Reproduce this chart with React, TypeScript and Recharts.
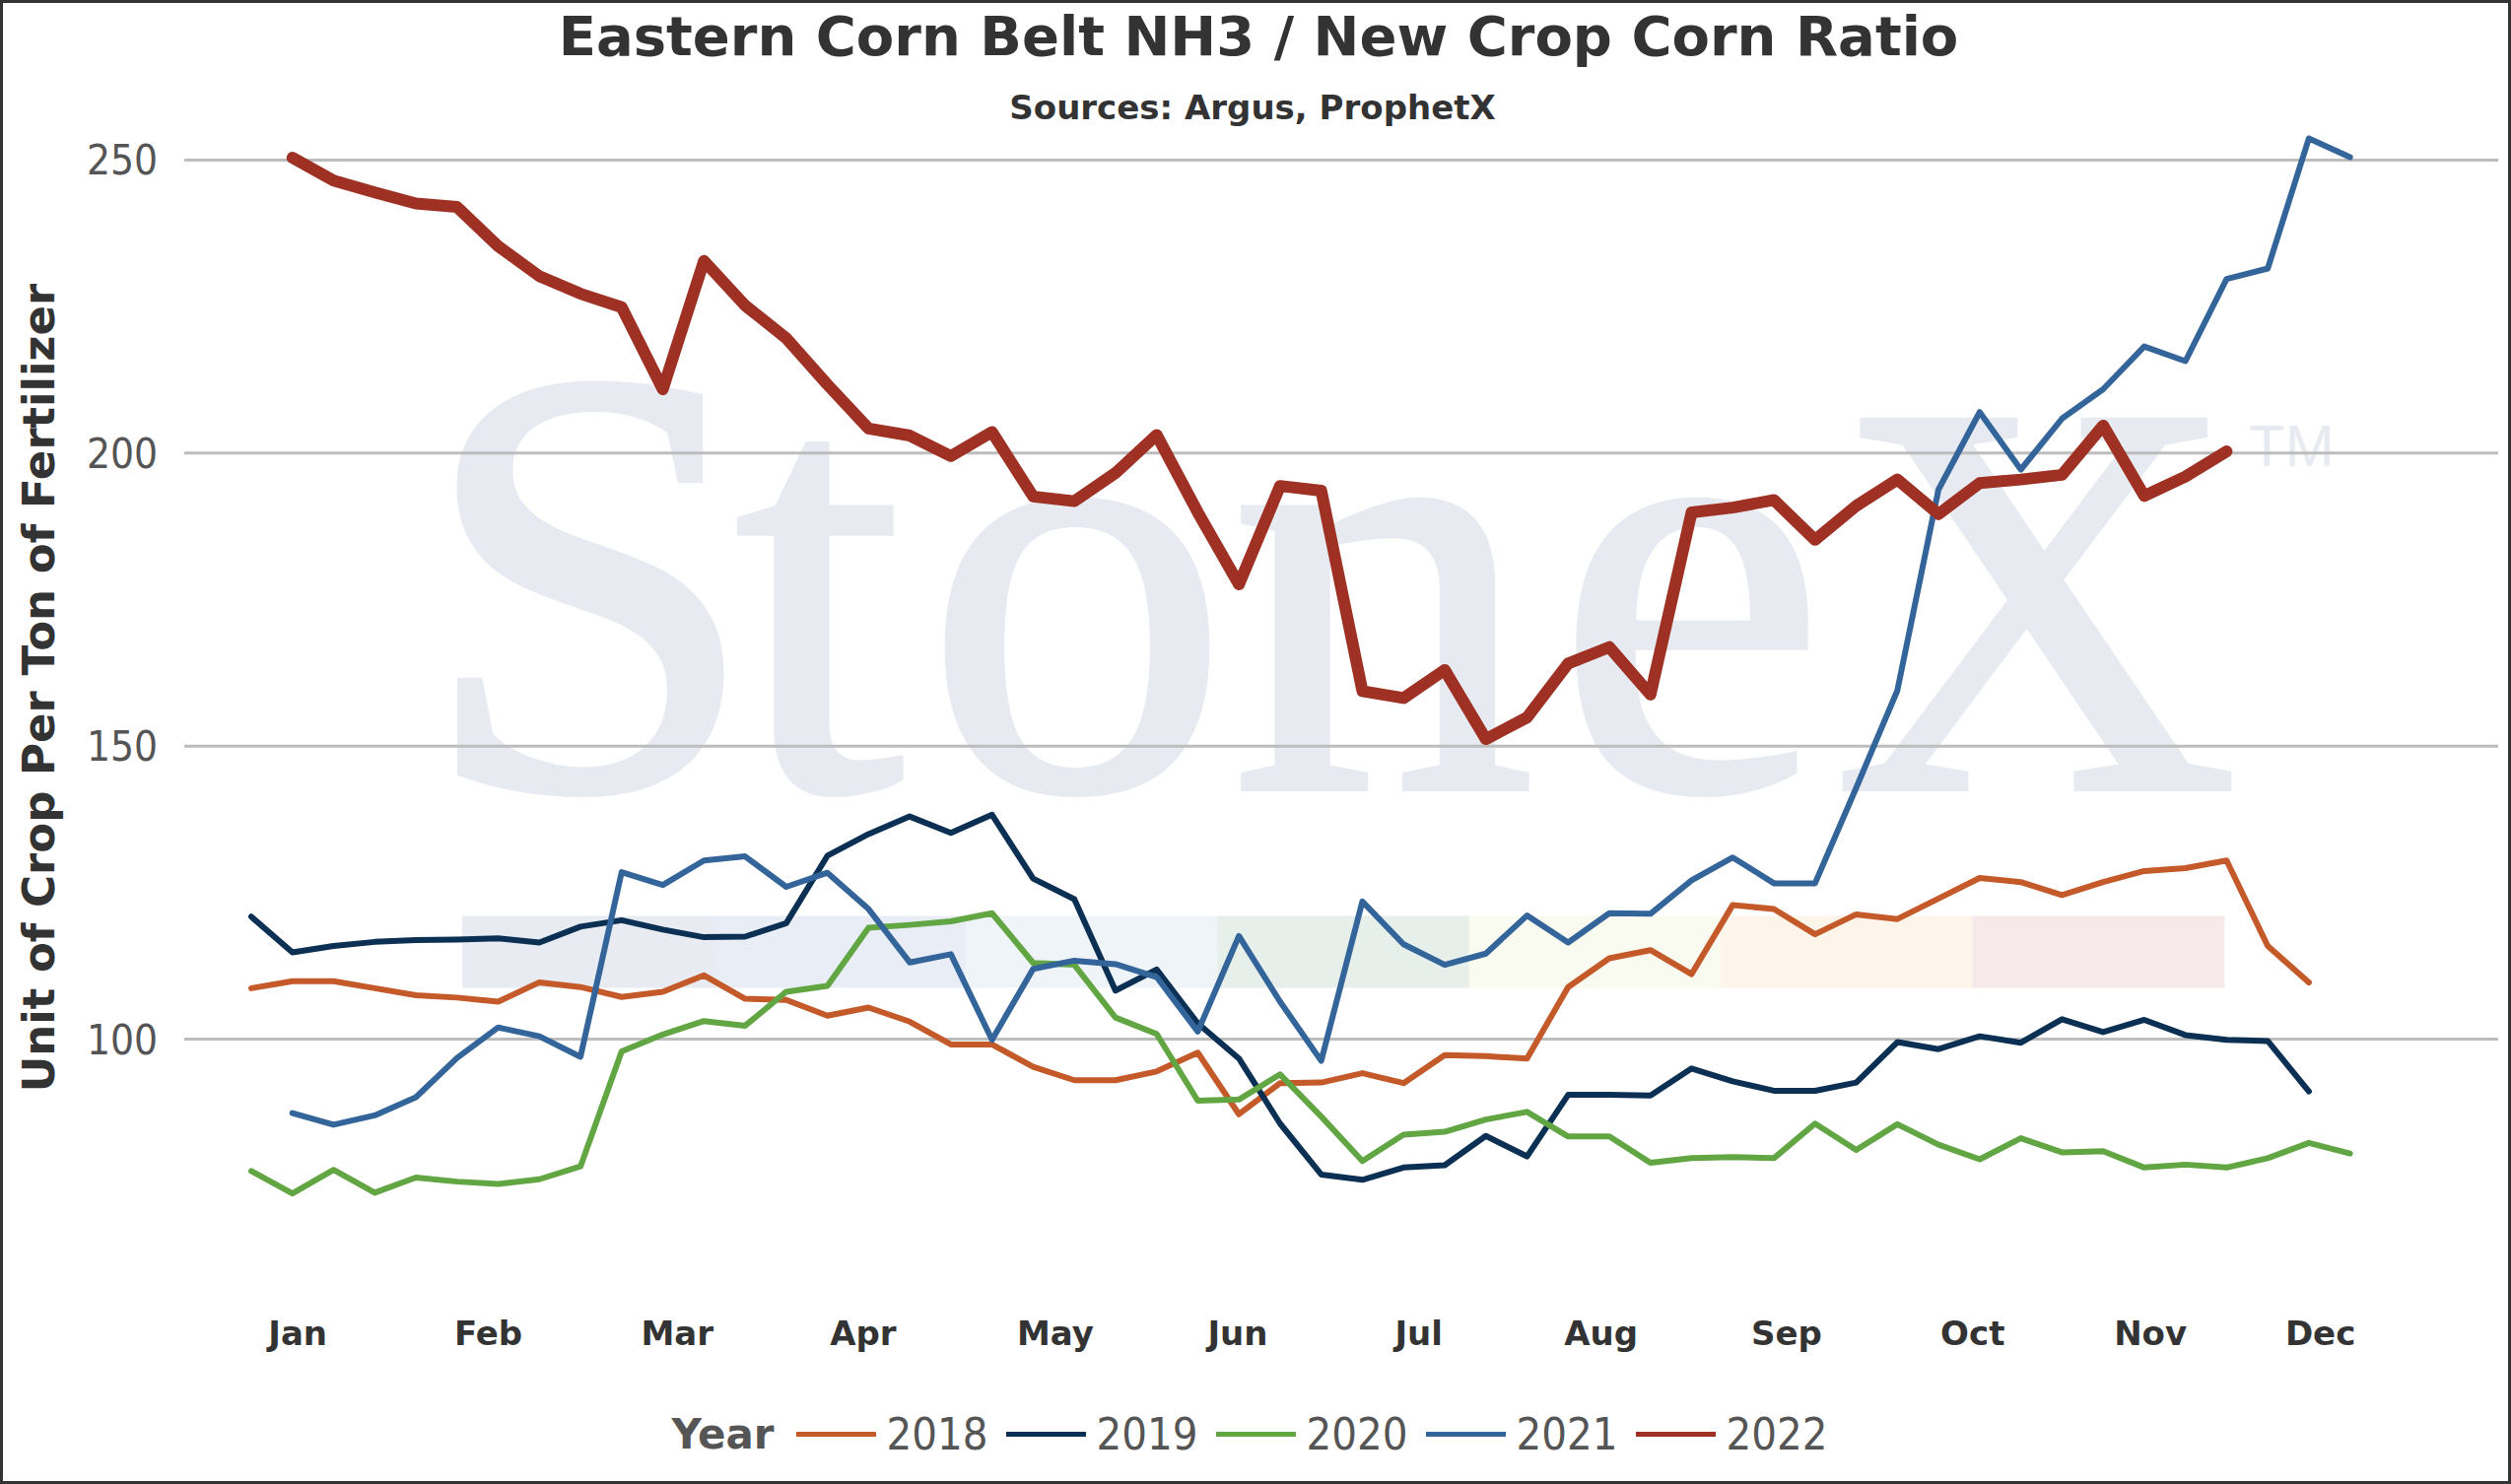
import { CartesianGrid, Legend, Line, LineChart, XAxis, YAxis } from 'recharts'

const WIDTH = 2548
const HEIGHT = 1506

// weekly observations, week index 0..51
const weeks = [
  0, 1, 2, 3, 4, 5, 6, 7, 8, 9, 10, 11, 12, 13, 14, 15, 16, 17, 18, 19, 20, 21, 22, 23, 24, 25,
  26, 27, 28, 29, 30, 31, 32, 33, 34, 35, 36, 37, 38, 39, 40, 41, 42, 43, 44, 45, 46, 47, 48, 49, 50, 51,
]

const monthTicks = [1.13, 5.76, 10.35, 14.87, 19.54, 23.97, 28.37, 32.8, 37.31, 41.83, 46.15, 50.28]
const monthLabels = ['Jan', 'Feb', 'Mar', 'Apr', 'May', 'Jun', 'Jul', 'Aug', 'Sep', 'Oct', 'Nov', 'Dec']
const valueTicks = [100, 150, 200, 250]

const years = ['2018', '2019', '2020', '2021', '2022']
const yearColors = ['#c4592a', '#0b3053', '#62a644', '#33649a', '#9e3123']
const yearWidths = [6, 6, 6, 6, 12]

const ratio2018 = [
  108.7, 109.9, 109.9, 108.7, 107.5, 107.1, 106.4, 109.7, 108.9, 107.2, 108.1, 110.9, 106.9, 106.7,
  104.0, 105.4, 103.0, 99.1, 99.1, 95.3, 93.0, 93.0, 94.5, 97.7, 87.2, 92.5, 92.6, 94.2, 92.5, 97.3,
  97.1, 96.7, 108.9, 113.8, 115.2, 111.1, 122.9, 122.2, 117.9, 121.3, 120.5, 124.0, 127.5, 126.8,
  124.6, 126.8, 128.7, 129.2, 130.5, 115.9, 109.7, null,
]
const ratio2019 = [
  120.9, 114.8, 115.9, 116.6, 116.9, 117.0, 117.2, 116.5, 119.2, 120.3, 118.7, 117.4, 117.5, 119.8,
  131.3, 135.0, 138.0, 135.2, 138.3, 127.4, 123.9, 108.3, 111.9, 102.7, 96.7, 85.6, 76.9, 76.0, 78.1,
  78.5, 83.5, 80.0, 90.5, 90.5, 90.4, 95.0, 92.8, 91.2, 91.2, 92.6, 99.5, 98.3, 100.5, 99.4, 103.4,
  101.2, 103.3, 100.7, 99.9, 99.7, 91.1, null,
]
const ratio2020 = [
  77.5, 73.7, 77.7, 73.8, 76.4, 75.7, 75.3, 76.1, 78.3, 97.9, 100.8, 103.1, 102.3, 108.1, 109.1,
  119.0, 119.5, 120.1, 121.5, 113.0, 112.7, 103.7, 100.9, 89.5, 89.7, 94.0, 86.8, 79.2, 83.7, 84.2,
  86.3, 87.6, 83.4, 83.4, 78.9, 79.7, 79.9, 79.7, 85.6, 81.1, 85.5, 82.0, 79.5, 83.1, 80.7, 80.9,
  78.1, 78.6, 78.1, 79.7, 82.3, 80.5,
]
const ratio2021 = [
  null, 87.4, 85.4, 87.0, 90.1, 96.8, 102.0, 100.5, 97.0, 128.5, 126.3, 130.5, 131.2, 126.0, 128.4,
  122.2, 113.1, 114.5, 99.9, 112.0, 113.4, 112.8, 110.6, 101.3, 117.6, 106.4, 96.3, 123.5, 116.2,
  112.7, 114.6, 121.1, 116.5, 121.5, 121.4, 127.1, 131.0, 126.6, 126.6, 142.9, 159.5, 193.8, 207.0,
  197.2, 205.9, 210.9, 218.2, 215.7, 229.7, 231.5, 253.7, 250.5,
]
const ratio2022 = [
  null, 250.4, 246.5, 244.5, 242.6, 242.0, 235.3, 230.2, 227.2, 224.9, 210.9, 232.8, 225.2, 219.6,
  211.7, 204.2, 203.0, 199.5, 203.6, 192.6, 191.8, 196.6, 203.1, 189.9, 177.6, 194.4, 193.6, 159.4,
  158.2, 163.0, 151.2, 154.9, 164.1, 166.9, 158.8, 189.9, 190.7, 192.0, 185.2, 191.0, 195.5, 189.6,
  194.9, 195.5, 196.3, 204.7, 192.7, 196.0, 200.3, null, null, null,
]

const seriesValues = [ratio2018, ratio2019, ratio2020, ratio2021, ratio2022]

const chartData = weeks.map((week, k) => {
  const row: Record<string, number | null> = { week }
  years.forEach((year, s) => {
    row[year] = seriesValues[s][k]
  })
  return row
})

// pastel strip that sits under the StoneX watermark
const stripColors = ['#e8ebf1', '#e9eef6', '#eff4f9', '#e6efea', '#fafbf0', '#fdf5e9', '#f6e9e9']

const BOLD = "'DejaVu Sans', Verdana, sans-serif"
const REGULAR = "'DejaVu Sans Condensed', 'DejaVu Sans', sans-serif"
const WATERMARK = '#e7eaf0'

function renderLegend(props: { payload?: Array<{ value?: string; color?: string }> }) {
  const items = props.payload ?? []

  return (
    <div
      style={{
        display: 'flex',
        alignItems: 'center',
        justifyContent: 'center',
        height: 70,
        color: '#555',
      }}
    >
      <span style={{ fontFamily: BOLD, fontWeight: 700, fontSize: 42, marginRight: 22 }}>
        Year
      </span>
      {items.map((item, index) => (
        <span
          key={item.value}
          style={{
            display: 'flex',
            alignItems: 'center',
            marginRight: index === items.length - 1 ? 0 : 18,
          }}
        >
          <span
            style={{
              display: 'inline-block',
              width: 81,
              height: 5,
              background: item.color,
              marginRight: 11,
            }}
          />
          <span style={{ fontFamily: REGULAR, fontSize: 45 }}>{item.value}</span>
        </span>
      ))}
    </div>
  )
}

export default function App() {
  return (
    <div
      style={{
        position: 'absolute',
        left: 0,
        top: 0,
        width: WIDTH,
        height: HEIGHT,
        background: '#fff',
        overflow: 'hidden',
      }}
    >
      <svg
        width={WIDTH}
        height={HEIGHT}
        style={{ position: 'absolute', left: 0, top: 0 }}
      >
        {stripColors.map((color, index) => (
          <rect
            key={color}
            x={469 + index * 255.4}
            y={929.5}
            width={255.9}
            height={73}
            fill={color}
          />
        ))}
        <text
          y={800}
          fontFamily="'Liberation Serif', 'DejaVu Serif', serif"
          fill={WATERMARK}
          stroke={WATERMARK}
          strokeWidth={6}
        >
          <tspan x="425 745 938 1248 1578" fontSize={620}>
            Stone
          </tspan>
          <tspan x={1860} fontSize={570}>
            X
          </tspan>
        </text>
        <text
          x={2282}
          y={473}
          fontFamily="'Liberation Sans', Arial, sans-serif"
          fontSize={60}
          fill={WATERMARK}
        >
          TM
        </text>
      </svg>

      <div style={{ position: 'absolute', left: 0, top: 0 }}>
        <LineChart
          width={WIDTH}
          height={HEIGHT}
          data={chartData}
          margin={{ top: 103, right: 13, bottom: 153.5, left: 87 }}
        >
          <CartesianGrid
            vertical={false}
            horizontalValues={valueTicks}
            stroke="#bdbdbd"
            strokeWidth={3}
          />
          <XAxis
            type="number"
            dataKey="week"
            domain={[-1.628, 54.6]}
            ticks={monthTicks}
            interval={0}
            tickFormatter={(value: number) => monthLabels[monthTicks.indexOf(value)]}
            axisLine={false}
            tickLine={false}
            tickSize={0}
            tickMargin={48}
            height={60}
            tick={{ fontSize: 34, fontWeight: 700, fill: '#333', fontFamily: BOLD }}
          />
          <YAxis
            type="number"
            domain={[60, 260]}
            ticks={valueTicks}
            interval={0}
            axisLine={false}
            tickLine={false}
            tickSize={0}
            tickMargin={27}
            width={100}
            tick={{ fontSize: 42, fill: '#555', fontFamily: REGULAR }}
          />
          <Legend
            verticalAlign="middle"
            layout="horizontal"
            wrapperStyle={{ top: 1420, left: 0, width: 2536, height: 70 }}
            content={renderLegend}
          />
          {years.map((year, index) => (
            <Line
              key={year}
              type="linear"
              dataKey={year}
              name={year}
              stroke={yearColors[index]}
              strokeWidth={yearWidths[index]}
              strokeLinecap="round"
              strokeLinejoin="round"
              dot={false}
              activeDot={false}
              isAnimationActive={false}
            />
          ))}
        </LineChart>
      </div>

      <svg
        width={WIDTH}
        height={HEIGHT}
        style={{ position: 'absolute', left: 0, top: 0, pointerEvents: 'none' }}
      >
        <text
          x={1277}
          y={56}
          textAnchor="middle"
          fontFamily={BOLD}
          fontWeight={700}
          fontSize={56}
          fill="#333"
        >
          Eastern Corn Belt NH3 / New Crop Corn Ratio
        </text>
        <text
          x={1271}
          y={121}
          textAnchor="middle"
          fontFamily={BOLD}
          fontWeight={700}
          fontSize={34}
          fill="#333"
        >
          Sources: Argus, ProphetX
        </text>
        <text
          transform="translate(55,698) rotate(-90)"
          textAnchor="middle"
          fontFamily={BOLD}
          fontWeight={700}
          fontSize={45}
          fill="#333"
        >
          Unit of Crop Per Ton of Fertilizer
        </text>
      </svg>

      <div
        style={{
          position: 'absolute',
          inset: 0,
          border: '3px solid #333',
          boxSizing: 'border-box',
          pointerEvents: 'none',
        }}
      />
    </div>
  )
}
